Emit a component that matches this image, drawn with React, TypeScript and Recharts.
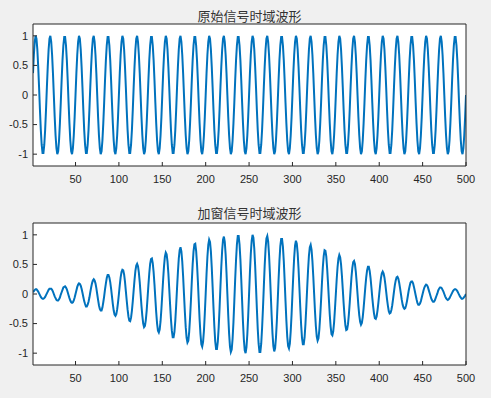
import { CartesianGrid, Line, LineChart, XAxis, YAxis } from "recharts";

// sample numbers on the x axis run 1..500 (index + 1)
const xTicks = [50, 100, 150, 200, 250, 300, 350, 400, 450, 500];
const yTicks = [-1, -0.5, 0, 0.5, 1];
const titles = ["原始信号时域波形", "加窗信号时域波形"];

// original signal, one value per sample
const original = [
  0.37, 0.68, 0.9, 1, 0.95, 0.77, 0.48, 0.13, -0.25, -0.59, -0.84, -0.98, -0.98, -0.84, -0.59, -0.25, 0.13, 0.48, 0.77, 0.95, 1, 0.9, 0.68, 0.37, 0, -0.37, -0.68, -0.9, -1, -0.95, -0.77, -0.48, -0.13, 0.25, 0.59, 0.84, 0.98, 0.98, 0.84, 0.59, 0.25, -0.13, -0.48, -0.77, -0.95, -1, -0.9, -0.68, -0.37, 0,
  0.37, 0.68, 0.9, 1, 0.95, 0.77, 0.48, 0.13, -0.25, -0.59, -0.84, -0.98, -0.98, -0.84, -0.59, -0.25, 0.13, 0.48, 0.77, 0.95, 1, 0.9, 0.68, 0.37, 0, -0.37, -0.68, -0.9, -1, -0.95, -0.77, -0.48, -0.13, 0.25, 0.59, 0.84, 0.98, 0.98, 0.84, 0.59, 0.25, -0.13, -0.48, -0.77, -0.95, -1, -0.9, -0.68, -0.37, 0,
  0.37, 0.68, 0.9, 1, 0.95, 0.77, 0.48, 0.13, -0.25, -0.59, -0.84, -0.98, -0.98, -0.84, -0.59, -0.25, 0.13, 0.48, 0.77, 0.95, 1, 0.9, 0.68, 0.37, 0, -0.37, -0.68, -0.9, -1, -0.95, -0.77, -0.48, -0.13, 0.25, 0.59, 0.84, 0.98, 0.98, 0.84, 0.59, 0.25, -0.13, -0.48, -0.77, -0.95, -1, -0.9, -0.68, -0.37, 0,
  0.37, 0.68, 0.9, 1, 0.95, 0.77, 0.48, 0.13, -0.25, -0.59, -0.84, -0.98, -0.98, -0.84, -0.59, -0.25, 0.13, 0.48, 0.77, 0.95, 1, 0.9, 0.68, 0.37, 0, -0.37, -0.68, -0.9, -1, -0.95, -0.77, -0.48, -0.13, 0.25, 0.59, 0.84, 0.98, 0.98, 0.84, 0.59, 0.25, -0.13, -0.48, -0.77, -0.95, -1, -0.9, -0.68, -0.37, 0,
  0.37, 0.68, 0.9, 1, 0.95, 0.77, 0.48, 0.13, -0.25, -0.59, -0.84, -0.98, -0.98, -0.84, -0.59, -0.25, 0.13, 0.48, 0.77, 0.95, 1, 0.9, 0.68, 0.37, 0, -0.37, -0.68, -0.9, -1, -0.95, -0.77, -0.48, -0.13, 0.25, 0.59, 0.84, 0.98, 0.98, 0.84, 0.59, 0.25, -0.13, -0.48, -0.77, -0.95, -1, -0.9, -0.68, -0.37, 0,
  0.37, 0.68, 0.9, 1, 0.95, 0.77, 0.48, 0.13, -0.25, -0.59, -0.84, -0.98, -0.98, -0.84, -0.59, -0.25, 0.13, 0.48, 0.77, 0.95, 1, 0.9, 0.68, 0.37, 0, -0.37, -0.68, -0.9, -1, -0.95, -0.77, -0.48, -0.13, 0.25, 0.59, 0.84, 0.98, 0.98, 0.84, 0.59, 0.25, -0.13, -0.48, -0.77, -0.95, -1, -0.9, -0.68, -0.37, 0,
  0.37, 0.68, 0.9, 1, 0.95, 0.77, 0.48, 0.13, -0.25, -0.59, -0.84, -0.98, -0.98, -0.84, -0.59, -0.25, 0.13, 0.48, 0.77, 0.95, 1, 0.9, 0.68, 0.37, 0, -0.37, -0.68, -0.9, -1, -0.95, -0.77, -0.48, -0.13, 0.25, 0.59, 0.84, 0.98, 0.98, 0.84, 0.59, 0.25, -0.13, -0.48, -0.77, -0.95, -1, -0.9, -0.68, -0.37, 0,
  0.37, 0.68, 0.9, 1, 0.95, 0.77, 0.48, 0.13, -0.25, -0.59, -0.84, -0.98, -0.98, -0.84, -0.59, -0.25, 0.13, 0.48, 0.77, 0.95, 1, 0.9, 0.68, 0.37, 0, -0.37, -0.68, -0.9, -1, -0.95, -0.77, -0.48, -0.13, 0.25, 0.59, 0.84, 0.98, 0.98, 0.84, 0.59, 0.25, -0.13, -0.48, -0.77, -0.95, -1, -0.9, -0.68, -0.37, 0,
  0.37, 0.68, 0.9, 1, 0.95, 0.77, 0.48, 0.13, -0.25, -0.59, -0.84, -0.98, -0.98, -0.84, -0.59, -0.25, 0.13, 0.48, 0.77, 0.95, 1, 0.9, 0.68, 0.37, 0, -0.37, -0.68, -0.9, -1, -0.95, -0.77, -0.48, -0.13, 0.25, 0.59, 0.84, 0.98, 0.98, 0.84, 0.59, 0.25, -0.13, -0.48, -0.77, -0.95, -1, -0.9, -0.68, -0.37, 0,
  0.37, 0.68, 0.9, 1, 0.95, 0.77, 0.48, 0.13, -0.25, -0.59, -0.84, -0.98, -0.98, -0.84, -0.59, -0.25, 0.13, 0.48, 0.77, 0.95, 1, 0.9, 0.68, 0.37, 0, -0.37, -0.68, -0.9, -1, -0.95, -0.77, -0.48, -0.13, 0.25, 0.59, 0.84, 0.98, 0.98, 0.84, 0.59, 0.25, -0.13, -0.48, -0.77, -0.95, -1, -0.9, -0.68, -0.37, 0,
];

// windowed signal, one value per sample
const windowed = [
  0.03, 0.05, 0.07, 0.08, 0.08, 0.06, 0.04, 0.01, -0.02, -0.05,
  -0.07, -0.08, -0.08, -0.07, -0.05, -0.02, 0.01, 0.04, 0.07, 0.09,
  0.09, 0.09, 0.07, 0.04, 0, -0.04, -0.07, -0.1, -0.11, -0.11,
  -0.09, -0.06, -0.01, 0.03, 0.07, 0.11, 0.12, 0.13, 0.11, 0.08,
  0.03, -0.02, -0.07, -0.11, -0.14, -0.15, -0.14, -0.11, -0.06, 0,

  0.06, 0.12, 0.16, 0.18, 0.17, 0.14, 0.09, 0.02, -0.05, -0.12,
  -0.17, -0.21, -0.21, -0.18, -0.13, -0.06, 0.03, 0.11, 0.18, 0.23,
  0.25, 0.23, 0.18, 0.1, 0, -0.1, -0.19, -0.25, -0.28, -0.28,
  -0.23, -0.14, -0.04, 0.08, 0.18, 0.27, 0.32, 0.32, 0.28, 0.2,
  0.09, -0.04, -0.17, -0.28, -0.35, -0.37, -0.34, -0.26, -0.14, 0,

  0.15, 0.28, 0.37, 0.41, 0.4, 0.33, 0.21, 0.05, -0.11, -0.26,
  -0.38, -0.45, -0.46, -0.4, -0.28, -0.12, 0.06, 0.24, 0.39, 0.48,
  0.51, 0.47, 0.36, 0.2, 0, -0.2, -0.37, -0.5, -0.56, -0.54,
  -0.44, -0.28, -0.07, 0.15, 0.35, 0.51, 0.59, 0.6, 0.52, 0.37,
  0.16, -0.08, -0.31, -0.5, -0.62, -0.65, -0.6, -0.46, -0.25, 0,

  0.25, 0.47, 0.63, 0.7, 0.67, 0.55, 0.35, 0.09, -0.18, -0.43,
  -0.62, -0.73, -0.73, -0.64, -0.45, -0.19, 0.1, 0.37, 0.6, 0.74,
  0.79, 0.72, 0.55, 0.3, 0, -0.3, -0.56, -0.74, -0.82, -0.79,
  -0.64, -0.4, -0.11, 0.21, 0.5, 0.72, 0.84, 0.85, 0.73, 0.51,
  0.22, -0.11, -0.43, -0.68, -0.85, -0.89, -0.81, -0.62, -0.33, 0,

  0.34, 0.63, 0.83, 0.92, 0.88, 0.72, 0.45, 0.12, -0.23, -0.55,
  -0.8, -0.93, -0.93, -0.8, -0.56, -0.24, 0.12, 0.46, 0.74, 0.92,
  0.97, 0.88, 0.67, 0.36, 0, -0.36, -0.67, -0.89, -0.98, -0.94,
  -0.76, -0.48, -0.12, 0.25, 0.58, 0.84, 0.98, 0.98, 0.84, 0.59,
  0.25, -0.12, -0.48, -0.77, -0.95, -1, -0.9, -0.68, -0.37, 0,

  0.37, 0.68, 0.9, 1, 0.95, 0.77, 0.48, 0.12, -0.25, -0.59,
  -0.84, -0.98, -0.98, -0.84, -0.58, -0.25, 0.12, 0.48, 0.76, 0.94,
  0.98, 0.89, 0.67, 0.36, 0, -0.36, -0.67, -0.88, -0.97, -0.92,
  -0.74, -0.46, -0.12, 0.24, 0.56, 0.81, 0.93, 0.93, 0.8, 0.56,
  0.23, -0.12, -0.45, -0.72, -0.88, -0.92, -0.84, -0.63, -0.34, 0,

  0.33, 0.62, 0.82, 0.9, 0.85, 0.69, 0.43, 0.11, -0.22, -0.52,
  -0.74, -0.85, -0.85, -0.73, -0.5, -0.21, 0.11, 0.41, 0.65, 0.79,
  0.83, 0.75, 0.56, 0.3, 0, -0.3, -0.55, -0.72, -0.79, -0.75,
  -0.6, -0.37, -0.1, 0.19, 0.45, 0.64, 0.74, 0.73, 0.63, 0.43,
  0.18, -0.09, -0.35, -0.55, -0.68, -0.7, -0.63, -0.48, -0.25, 0,

  0.25, 0.46, 0.6, 0.66, 0.62, 0.5, 0.31, 0.08, -0.16, -0.37,
  -0.53, -0.61, -0.6, -0.51, -0.35, -0.15, 0.07, 0.28, 0.44, 0.54,
  0.56, 0.51, 0.38, 0.2, 0, -0.2, -0.36, -0.47, -0.52, -0.49,
  -0.39, -0.24, -0.06, 0.12, 0.28, 0.4, 0.46, 0.46, 0.39, 0.27,
  0.11, -0.06, -0.21, -0.33, -0.41, -0.42, -0.38, -0.28, -0.15, 0,

  0.14, 0.27, 0.35, 0.38, 0.35, 0.28, 0.17, 0.04, -0.09, -0.2,
  -0.29, -0.33, -0.32, -0.27, -0.19, -0.08, 0.04, 0.15, 0.23, 0.28,
  0.29, 0.26, 0.19, 0.1, 0, -0.1, -0.18, -0.23, -0.25, -0.24,
  -0.19, -0.12, -0.03, 0.06, 0.13, 0.19, 0.21, 0.21, 0.18, 0.12,
  0.05, -0.02, -0.09, -0.15, -0.18, -0.18, -0.16, -0.12, -0.06, 0,

  0.06, 0.11, 0.14, 0.16, 0.15, 0.12, 0.07, 0.02, -0.03, -0.08,
  -0.11, -0.13, -0.13, -0.11, -0.07, -0.03, 0.01, 0.06, 0.09, 0.11,
  0.11, 0.1, 0.07, 0.04, 0, -0.04, -0.07, -0.09, -0.1, -0.09,
  -0.07, -0.04, -0.01, 0.02, 0.05, 0.07, 0.08, 0.08, 0.07, 0.05,
  0.02, -0.01, -0.04, -0.06, -0.08, -0.08, -0.07, -0.05, -0.03, 0,
];

const W = 491;
const axisColor = "#262626";
const lineColor = "#0072BD";
const tickStyle = {
  fontSize: 11,
  fill: "#262626",
  fontFamily: '"Liberation Sans", Arial, sans-serif',
};

function Panel({
  title,
  values,
  top,
  height,
  xAxisHeight,
  titleTop,
}: {
  title: string;
  values: number[];
  top: number;
  height: number;
  xAxisHeight: number;
  titleTop: number;
}) {
  const data = values.map((v, i) => ({ n: i + 1, v }));
  const axisLine = { stroke: axisColor, strokeWidth: 1 };

  return (
    <div style={{ position: "absolute", left: 0, top, width: W, height }}>
      <div
        style={{
          position: "absolute",
          left: 33,
          width: 433,
          top: titleTop,
          textAlign: "center",
          fontFamily: '"Noto Sans CJK SC", sans-serif',
          fontSize: 13,
          lineHeight: "13px",
          color: "#333333",
        }}
      >
        {title}
      </div>
      <LineChart
        width={W}
        height={height}
        data={data}
        margin={{ top: 22, right: 24, bottom: 0, left: 0 }}
        style={{ position: "absolute", left: 0, top: 0 }}
      >
        <CartesianGrid xAxisId="b" yAxisId="l" fill="#ffffff" horizontal={false} vertical={false} />
        <XAxis
          xAxisId="b"
          dataKey="n"
          type="number"
          domain={[1, 500]}
          ticks={xTicks}
          interval={0}
          allowDataOverflow
          height={xAxisHeight}
          tickSize={-4}
          tickMargin={13}
          axisLine={axisLine}
          tickLine={axisLine}
          tick={tickStyle}
        />
        <XAxis
          xAxisId="t"
          orientation="top"
          dataKey="n"
          type="number"
          domain={[1, 500]}
          ticks={xTicks}
          interval={0}
          allowDataOverflow
          height={1}
          tickSize={-4}
          axisLine={axisLine}
          tickLine={axisLine}
          tick={false}
        />
        <YAxis
          yAxisId="l"
          type="number"
          domain={[-1.2, 1.2]}
          ticks={yTicks}
          interval={0}
          allowDataOverflow
          width={33}
          tickSize={-4}
          tickMargin={9}
          axisLine={axisLine}
          tickLine={axisLine}
          tick={tickStyle}
        />
        <YAxis
          yAxisId="r"
          orientation="right"
          type="number"
          domain={[-1.2, 1.2]}
          ticks={yTicks}
          interval={0}
          allowDataOverflow
          width={1}
          tickSize={-4}
          axisLine={axisLine}
          tickLine={axisLine}
          tick={false}
        />
        <Line
          xAxisId="b"
          yAxisId="l"
          type="linear"
          dataKey="v"
          stroke={lineColor}
          strokeWidth={2}
          dot={false}
          activeDot={false}
          isAnimationActive={false}
        />
      </LineChart>
    </div>
  );
}

export default function App() {
  return (
    <div style={{ position: "relative", width: W, height: 398, background: "#f0f0f0", overflow: "hidden" }}>
      <style>{"body{margin:0}"}</style>
      <Panel title={titles[0]} values={original} top={1} height={199} xAxisHeight={34} titleTop={8} />
      <Panel title={titles[1]} values={windowed} top={200} height={198} xAxisHeight={33} titleTop={6} />
    </div>
  );
}
